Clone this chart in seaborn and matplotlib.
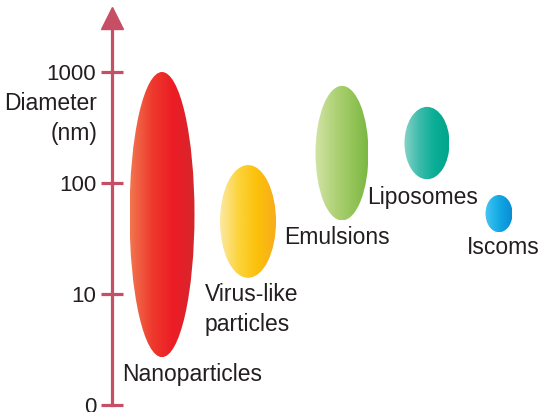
import numpy as np
import matplotlib
matplotlib.use("Agg")
import matplotlib.pyplot as plt
from matplotlib.patches import Ellipse
from matplotlib.colors import LinearSegmentedColormap
import seaborn as sns

sns.set_theme(style="white")
plt.rcParams["font.family"] = ["Liberation Sans", "DejaVu Sans"]

# diameter ranges (nm)
categories = ["Nanoparticles", "Virus-like\nparticles", "Emulsions", "Liposomes", "Iscoms"]
size_min = [2.7, 14, 46, 108, 36]
size_max = [1000, 145, 750, 485, 78]
tick_values = [1, 10, 100, 1000]
tick_labels = ["0", "10", "100", "1000"]

# layout (pixel-like x positions, widths) and gradient colours
x_center = [162, 248, 342, 427, 499]
x_width = [65, 56, 53, 45, 27]
# left edge and baseline of the last line of each label
label_pos = [(122, 381), (205, 331), (284, 244), (367, 204), (467, 254)]
gradients = [
    ["#f2764f", "#ee3b2e", "#ec1c24", "#d5272e"],
    ["#fde9a3", "#fcd33a", "#fcc10a", "#f8ac1c"],
    ["#d3e4a6", "#b3d47c", "#98c65c", "#7ab843"],
    ["#86d3ca", "#3fbcab", "#0bae96", "#00a58a"],
    ["#4cc6f0", "#22b3ea", "#0ea1e0", "#0a8cd3"],
]
axis_color = "#c64f66"
text_color = "#231f20"

px_per_decade = 111.0


def py_to_log(py):
    return (405 - py) / px_per_decade


fig = plt.figure(figsize=(5.4, 4.12), dpi=100)
ax = fig.add_axes([112 / 540, 7 / 412, (540 - 112) / 540, (405 - 28) / 412])
ax.patch.set_alpha(0)

sns.despine(ax=ax, bottom=True)
ax.spines["left"].set_color(axis_color)
ax.spines["left"].set_linewidth(2.3)
ax.set_xticks([])
ax.set_yticks(np.log10(tick_values))
ax.set_yticklabels(tick_labels, fontsize=16, color=text_color)
ax.tick_params(axis="y", direction="inout", length=16.5, width=2.3,
               color=axis_color, pad=3, left=True)

# arrow head
ax.plot([112], [py_to_log(17.5)], marker="^", ms=16.5, color=axis_color,
        mec=axis_color, clip_on=False)

for cat, lo, hi, xc, w, cols in zip(categories, size_min, size_max,
                                     x_center, x_width, gradients):
    y0, y1 = np.log10(lo), np.log10(hi)
    ell = Ellipse((xc, (y0 + y1) / 2), w, y1 - y0, facecolor="none",
                  edgecolor="none", transform=ax.transData)
    ax.add_patch(ell)
    cmap = LinearSegmentedColormap.from_list(cat, cols)
    grad = np.linspace(0, 1, 256).reshape(1, -1)
    im = ax.imshow(grad, cmap=cmap, aspect="auto",
                   extent=[xc - w / 2, xc + w / 2, y0, y1], zorder=2)
    im.set_clip_path(ell)

for cat, (lx, ly) in zip(categories, label_pos):
    ax.text(lx, py_to_log(ly), cat, fontsize=16.5, color=text_color,
            ha="left", va="baseline", linespacing=1.38, clip_on=False)

ax.text(97, py_to_log(140), "Diameter\n(nm)", fontsize=16.5, color=text_color,
        ha="right", va="baseline", linespacing=1.38, multialignment="right",
        clip_on=False)

ax.set_xlim(112, 540)
ax.set_ylim(0, py_to_log(28))

fig.savefig("out.png", dpi=100)
